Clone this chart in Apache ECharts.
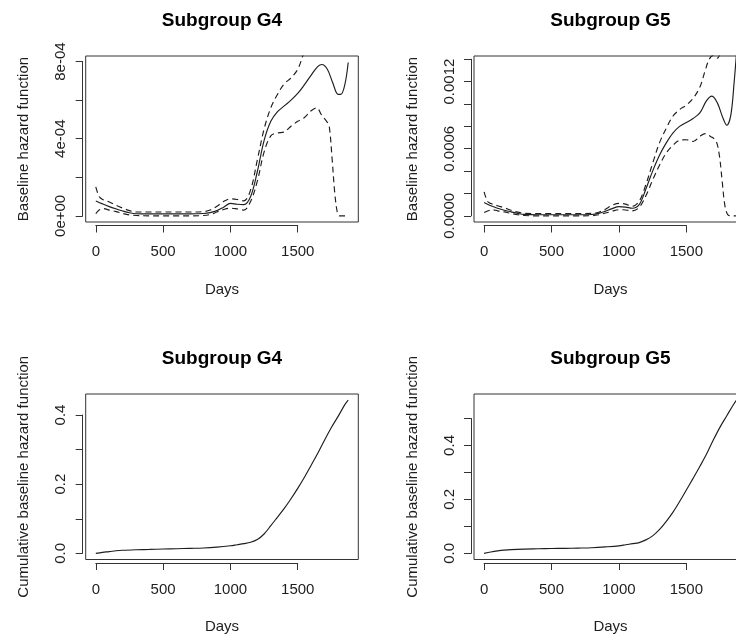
<!DOCTYPE html>
<html>
<head>
<meta charset="utf-8">
<script src="https://cdn.jsdelivr.net/npm/echarts@6/dist/echarts.min.js"></script>
<style>
  html, body { margin: 0; padding: 0; background: #fff; overflow: hidden; }
  #chart { width: 760px; height: 636px; }
</style>
</head>
<body>
<div id="chart"></div>
<script>
// ---- Baseline hazard, subgroup G4 (estimate with pointwise band) ----
const g4HazDays = [0, 50, 100, 150, 200, 250, 300, 400, 500, 600, 700, 800, 850, 900, 950, 1000, 1050, 1100, 1150, 1200, 1250, 1300, 1350, 1400, 1450, 1500, 1550, 1600, 1650, 1680, 1720, 1760, 1800, 1820, 1850, 1875];
const g4Haz = [7.7e-5, 6.2e-5, 4.8e-5, 3.6e-5, 2.5e-5, 1.6e-5, 1.1e-5, 1.0e-5, 1.0e-5, 1.0e-5, 1.0e-5, 1.2e-5, 1.7e-5, 2.7e-5, 4.5e-5, 6.5e-5, 6.0e-5, 5.8e-5, 1.0e-4, 2.3e-4, 3.9e-4, 4.9e-4, 5.4e-4, 5.7e-4, 6.0e-4, 6.35e-4, 6.8e-4, 7.3e-4, 7.75e-4, 7.85e-4, 7.6e-4, 6.9e-4, 6.3e-4, 6.3e-4, 6.8e-4, 7.95e-4];
const g4HazUpperDays = [0, 25, 50, 100, 150, 200, 250, 300, 400, 500, 600, 700, 800, 850, 900, 950, 1000, 1050, 1100, 1150, 1200, 1250, 1300, 1350, 1400, 1450, 1500, 1540, 1580, 1620];
const g4HazUpper = [1.5e-4, 1.0e-4, 8.5e-5, 7.2e-5, 5.5e-5, 4.0e-5, 2.7e-5, 2.0e-5, 2.0e-5, 2.0e-5, 2.0e-5, 2.0e-5, 2.2e-5, 3.0e-5, 5.0e-5, 7.5e-5, 8.8e-5, 8.5e-5, 7.8e-5, 1.35e-4, 2.9e-4, 4.5e-4, 5.6e-4, 6.3e-4, 6.85e-4, 7.15e-4, 7.6e-4, 8.35e-4, 9.2e-4, 1.02e-3];
const g4HazLowerDays = [0, 25, 50, 100, 150, 200, 250, 300, 400, 500, 600, 700, 800, 850, 900, 950, 1000, 1050, 1100, 1150, 1200, 1250, 1300, 1350, 1400, 1450, 1500, 1550, 1600, 1640, 1680, 1720, 1735, 1755, 1775, 1795, 1810, 1875];
const g4HazLower = [1.2e-5, 3.0e-5, 3.8e-5, 3.0e-5, 2.2e-5, 1.2e-5, 5e-6, 2e-6, 0, 0, 0, 0, 2e-6, 7e-6, 2.0e-5, 3.3e-5, 4.0e-5, 3.6e-5, 3.0e-5, 7.5e-5, 1.8e-4, 3.3e-4, 4.15e-4, 4.3e-4, 4.35e-4, 4.65e-4, 4.9e-4, 5.1e-4, 5.45e-4, 5.6e-4, 5.2e-4, 4.85e-4, 4.6e-4, 3.0e-4, 1.2e-4, 1.5e-5, 0, 0];

// ---- Baseline hazard, subgroup G5 ----
const g5HazDays = [0, 50, 100, 150, 200, 250, 300, 400, 500, 600, 700, 800, 850, 900, 950, 1000, 1050, 1100, 1150, 1200, 1250, 1300, 1350, 1400, 1450, 1500, 1550, 1600, 1650, 1690, 1730, 1770, 1800, 1830, 1855, 1875];
const g5Haz = [1.2e-4, 9.0e-5, 6.8e-5, 5.0e-5, 3.6e-5, 2.2e-5, 1.3e-5, 1.0e-5, 1.0e-5, 1.0e-5, 1.0e-5, 1.2e-5, 2.2e-5, 4.2e-5, 6.5e-5, 8.2e-5, 7.8e-5, 6.8e-5, 1.0e-4, 2.4e-4, 4.0e-4, 5.4e-4, 6.5e-4, 7.4e-4, 8.0e-4, 8.35e-4, 8.7e-4, 9.2e-4, 1.03e-3, 1.07e-3, 1.01e-3, 8.8e-4, 8.1e-4, 9.0e-4, 1.2e-3, 1.5e-3];
const g5HazUpperDays = [0, 25, 50, 100, 150, 200, 250, 300, 400, 500, 600, 700, 800, 850, 900, 950, 1000, 1050, 1100, 1150, 1200, 1250, 1300, 1350, 1400, 1450, 1500, 1550, 1600, 1640, 1670, 1700, 1730, 1760, 1800];
const g5HazUpper = [2.15e-4, 1.3e-4, 1.1e-4, 9.0e-5, 7.2e-5, 5.0e-5, 3.3e-5, 2.2e-5, 2.0e-5, 2.0e-5, 2.0e-5, 2.0e-5, 2.2e-5, 3.2e-5, 6.0e-5, 9.5e-5, 1.12e-4, 1.05e-4, 8.5e-5, 1.3e-4, 2.8e-4, 4.7e-4, 6.5e-4, 7.8e-4, 8.9e-4, 9.5e-4, 9.9e-4, 1.05e-3, 1.15e-3, 1.3e-3, 1.4e-3, 1.435e-3, 1.41e-3, 1.5e-3, 1.7e-3];
const g5HazLowerDays = [0, 30, 60, 100, 150, 200, 250, 300, 400, 500, 600, 700, 800, 850, 900, 950, 1000, 1050, 1100, 1150, 1200, 1250, 1300, 1350, 1400, 1450, 1500, 1550, 1600, 1640, 1680, 1720, 1745, 1765, 1785, 1805, 1830, 1875];
const g5HazLower = [3.0e-5, 4.5e-5, 5.5e-5, 4.5e-5, 3.5e-5, 2.2e-5, 1.0e-5, 3e-6, 0, 0, 0, 0, 2e-6, 1.0e-5, 2.5e-5, 4.2e-5, 5.5e-5, 5.2e-5, 4.5e-5, 7.5e-5, 1.8e-4, 3.2e-4, 4.5e-4, 5.6e-4, 6.3e-4, 6.75e-4, 6.8e-4, 6.65e-4, 7.1e-4, 7.35e-4, 7.1e-4, 6.7e-4, 5.4e-4, 3.2e-4, 1.0e-4, 1.5e-5, 0, 0];

// ---- Cumulative baseline hazard ----
const cumDays = [0, 50, 100, 150, 200, 300, 400, 500, 600, 700, 800, 900, 1000, 1050, 1100, 1150, 1200, 1250, 1300, 1350, 1400, 1450, 1500, 1550, 1600, 1650, 1700, 1750, 1800, 1850, 1875];
const g4Cum = [0, 0.003, 0.005, 0.0075, 0.009, 0.0105, 0.0115, 0.0125, 0.0135, 0.0145, 0.0155, 0.018, 0.022, 0.025, 0.028, 0.032, 0.04, 0.056, 0.08, 0.105, 0.13, 0.158, 0.188, 0.22, 0.255, 0.29, 0.328, 0.364, 0.396, 0.43, 0.443];
const g5Cum = [0, 0.005, 0.009, 0.012, 0.014, 0.016, 0.017, 0.018, 0.0185, 0.0195, 0.021, 0.024, 0.028, 0.032, 0.036, 0.04, 0.05, 0.065, 0.088, 0.118, 0.152, 0.192, 0.235, 0.278, 0.322, 0.368, 0.42, 0.468, 0.51, 0.552, 0.57];

// ---- Axis ranges (before the usual 4% padding) and ticks ----
const dayRange = [0, 1875];
const g4HazRange = [0, 7.97e-4];
const g5HazRange = [0, 1.374e-3];
const g4CumRange = [0, 0.443];
const g5CumRange = [0, 0.568];

const dayTicks = [0, 500, 1000, 1500];
const dayTickLabels = ['0', '500', '1000', '1500'];
const g4HazTicks = [0, 2e-4, 4e-4, 6e-4, 8e-4];
const g4HazTickLabels = ['0e+00', '', '4e-04', '', '8e-04'];
const g5HazTicks = [0, 2e-4, 4e-4, 6e-4, 8e-4, 1e-3, 1.2e-3, 1.4e-3];
const g5HazTickLabels = ['0.0000', '', '', '0.0006', '', '', '0.0012', ''];
const g4CumTicks = [0, 0.1, 0.2, 0.3, 0.4];
const g4CumTickLabels = ['0.0', '', '0.2', '', '0.4'];
const g5CumTicks = [0, 0.1, 0.2, 0.3, 0.4, 0.5];
const g5CumTickLabels = ['0.0', '', '0.2', '', '0.4', ''];

const titles = ['Subgroup G4', 'Subgroup G5', 'Subgroup G4', 'Subgroup G5'];
const xLabel = 'Days';
const hazLabel = 'Baseline hazard function';
const cumLabel = 'Cumulative baseline hazard function';

// ---- Drawing ----
const FONT = '"Liberation Sans", Arial, Helvetica, sans-serif';
const INK = '#1e1e1e';
const BOX = '#333333';
const DASH = [6, 4];

function pad(r) { const d = (r[1] - r[0]) * 0.04; return [r[0] - d, r[1] + d]; }
function pairs(xs, ys) { return xs.map((x, i) => [x, ys[i]]); }

const panels = [
  { box: { left: 85.7, top: 56, width: 272.6, height: 166 }, yr: g4HazRange, ticks: g4HazTicks, labels: g4HazTickLabels, yName: hazLabel,
    lines: [[g4HazDays, g4Haz, 'solid'], [g4HazUpperDays, g4HazUpper, DASH], [g4HazLowerDays, g4HazLower, DASH]] },
  { box: { left: 474, top: 56, width: 273, height: 166 }, yr: g5HazRange, ticks: g5HazTicks, labels: g5HazTickLabels, yName: hazLabel,
    lines: [[g5HazDays, g5Haz, 'solid'], [g5HazUpperDays, g5HazUpper, DASH], [g5HazLowerDays, g5HazLower, DASH]] },
  { box: { left: 85.7, top: 394, width: 272.6, height: 165.5 }, yr: g4CumRange, ticks: g4CumTicks, labels: g4CumTickLabels, yName: cumLabel,
    lines: [[cumDays, g4Cum, 'solid']] },
  { box: { left: 474, top: 394, width: 273, height: 165.5 }, yr: g5CumRange, ticks: g5CumTicks, labels: g5CumTickLabels, yName: cumLabel,
    lines: [[cumDays, g5Cum, 'solid']] }
];

const grid = [], xAxis = [], yAxis = [], series = [], graphic = [];
const xr = pad(dayRange);

panels.forEach((p, i) => {
  const b = p.box;
  const yr = pad(p.yr);
  const sx = v => b.left + (v - xr[0]) / (xr[1] - xr[0]) * b.width;
  const sy = v => b.top + (yr[1] - v) / (yr[1] - yr[0]) * b.height;
  const yTop = p.ticks[p.ticks.length - 1];
  const yStep = p.ticks[1] - p.ticks[0];
  const xStep = dayTicks[1] - dayTicks[0];
  const xLast = dayTicks[dayTicks.length - 1];

  // plotting region with its frame
  grid.push({ left: b.left, top: b.top, width: b.width, height: b.height, show: true,
    borderColor: BOX, borderWidth: 1, backgroundColor: 'transparent', outerBoundsMode: 'none' });
  // axis-only region spanning the labelled ticks
  grid.push({ left: sx(0), top: sy(yTop), width: sx(xLast) - sx(0), height: sy(0) - sy(yTop), outerBoundsMode: 'none' });

  const gMain = 2 * i, gTick = 2 * i + 1;
  const nameStyle = { fontFamily: FONT, fontSize: 15, color: INK };

  xAxis.push({ gridIndex: gMain, type: 'value', min: xr[0], max: xr[1],
    axisLine: { show: false }, axisTick: { show: false }, axisLabel: { show: false }, splitLine: { show: false },
    name: xLabel, nameLocation: 'middle', nameGap: 60, nameTextStyle: nameStyle });
  yAxis.push({ gridIndex: gMain, type: 'value', min: yr[0], max: yr[1],
    axisLine: { show: false }, axisTick: { show: false }, axisLabel: { show: false }, splitLine: { show: false },
    name: p.yName, nameLocation: 'middle', nameGap: 54, nameTextStyle: nameStyle });

  const axisLine = { show: true, onZero: false, lineStyle: { color: BOX, width: 1 } };
  const axisTick = { show: true, length: 7, lineStyle: { color: BOX, width: 1 } };
  xAxis.push({ gridIndex: gTick, type: 'value', min: 0, max: xLast, interval: xStep,
    position: 'bottom', offset: (b.top + b.height + 3.5) - sy(0),
    axisLine, axisTick, splitLine: { show: false },
    axisLabel: { show: true, margin: 19, showMinLabel: true, showMaxLabel: true, hideOverlap: false,
      fontFamily: FONT, fontSize: 15, color: INK,
      formatter: v => dayTickLabels[Math.round(v / xStep)] } });
  yAxis.push({ gridIndex: gTick, type: 'value', min: 0, max: yTop, interval: yStep,
    position: 'left', offset: sx(0) - (b.left - 3),
    axisLine, axisTick, splitLine: { show: false },
    axisLabel: { show: true, rotate: 90, margin: 14, showMinLabel: true, showMaxLabel: true, hideOverlap: false,
      fontFamily: FONT, fontSize: 15, color: INK,
      formatter: v => p.labels[Math.round(v / yStep)] } });

  p.lines.forEach(([xs, ys, type]) => {
    series.push({ type: 'line', xAxisIndex: gMain, yAxisIndex: gMain, data: pairs(xs, ys),
      showSymbol: false, symbol: 'none', smooth: 0.35, clip: true, silent: true,
      lineStyle: { color: INK, width: 1.15, type: type } });
  });

  graphic.push({ type: 'text', x: b.left + b.width / 2, y: b.top - 35.5, silent: true,
    style: { text: titles[i], font: 'bold 19px ' + FONT, fill: '#000', align: 'center', verticalAlign: 'middle' } });
});

const chart = echarts.init(document.getElementById('chart'), null, { renderer: 'canvas' });
chart.setOption({
  animation: false,
  backgroundColor: '#ffffff',
  grid, xAxis, yAxis, series, graphic
});
</script>
</body>
</html>
